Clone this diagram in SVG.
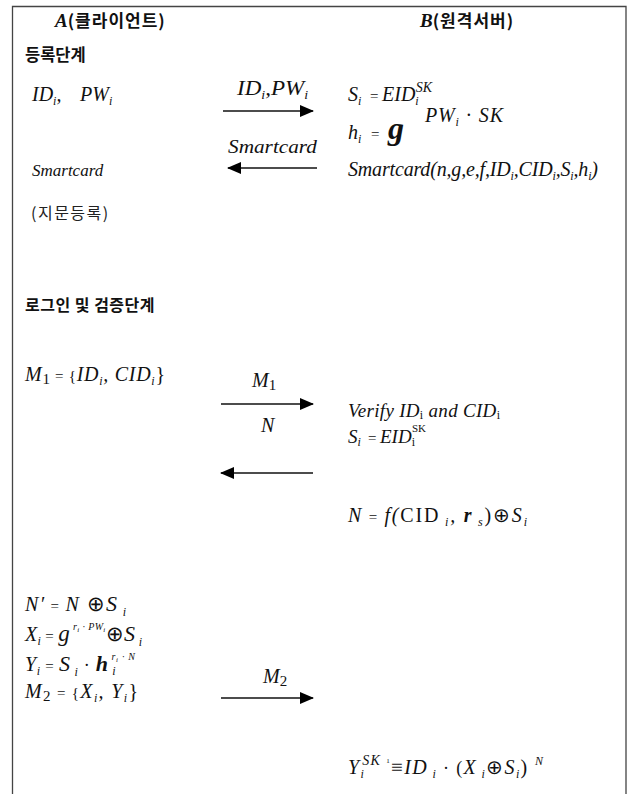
<svg xmlns="http://www.w3.org/2000/svg" width="629" height="794" viewBox="0 0 629 794">
<defs>
<style>
.m{font-family:"Liberation Serif","Times New Roman",serif;font-style:italic;font-size:20px;fill:#111}
.u{font-style:normal}
.s{font-size:12px}
.k{font-family:"Noto Sans CJK KR","Noto Sans",sans-serif;font-weight:bold;fill:#111}
.kn{font-family:"Noto Sans CJK KR","Noto Sans",sans-serif;font-size:16px;fill:#222;letter-spacing:1.5px}
.hd{font-family:"Liberation Serif",serif;font-style:italic;font-weight:bold;font-size:19px;fill:#111}
.ar{stroke:#111;stroke-width:1.4;fill:none}
</style>
<marker id="ah" viewBox="0 0 14 12" refX="13" refY="6" markerWidth="14" markerHeight="12" markerUnits="userSpaceOnUse" orient="auto">
<path d="M0,0 L14,6 L0,12 Z" fill="#000"/>
</marker>
</defs>
<rect width="629" height="794" fill="#fff"/>
<path d="M12.5,800 V6.5 H626 V800" fill="none" stroke="#444" stroke-width="1.3"/>

<g id="headerA"><text x="55" y="27"><tspan class="hd">A</tspan><tspan class="k" style="font-size:17px;letter-spacing:1px">(클라이언트)</tspan></text></g>
<g id="headerB"><text x="420" y="27"><tspan class="hd">B</tspan><tspan class="k" style="font-size:17px;letter-spacing:1px">(원격서버)</tspan></text></g>

<g id="reg-title"><text class="k" x="25" y="61" style="font-size:16.5px">등록단계</text></g>
<g id="reg-A1"><text class="m" x="32" y="101">ID<tspan class="s" dy="4">i</tspan><tspan dy="-4">,</tspan><tspan x="80">PW</tspan><tspan class="s" dy="4">i</tspan></text></g>
<g id="reg-B1"><text class="m" x="348" y="101">S<tspan class="s" dy="4">i</tspan><tspan class="u" x="370" dy="-4" style="font-size:15px">=</tspan><tspan x="382">EID</tspan><tspan class="s" dy="4">i</tspan><tspan class="s" dx="-3" dy="-13" style="font-size:14px">SK</tspan></text></g>
<g id="reg-B2"><text class="m" x="348" y="139">h<tspan class="s" dy="4">i</tspan><tspan class="u" x="371" dy="-4" style="font-size:15px">=</tspan><tspan x="388" style="font-size:32px;font-weight:bold">g</tspan></text>
<text class="m" x="425" y="122" textLength="78" lengthAdjust="spacing">PW<tspan class="s" dy="4">i</tspan><tspan class="u" dy="-4"> · </tspan>SK</text></g>
<g id="reg-A2"><text class="m" x="32" y="176" style="font-size:17px">Smartcard</text></g>
<g id="reg-B3"><text class="m" x="348" y="176" textLength="250" lengthAdjust="spacing">Smartcard(n,g,e,f,ID<tspan class="s" dy="4">i</tspan><tspan dy="-4">,CID</tspan><tspan class="s" dy="4">i</tspan><tspan dy="-4">,S</tspan><tspan class="s" dy="4">i</tspan><tspan dy="-4">,h</tspan><tspan class="s" dy="4">i</tspan><tspan dy="-4">)</tspan></text></g>
<g id="reg-A3"><text class="kn" x="31" y="219">(지문등록)</text></g>

<g id="login-title"><text class="k" x="25" y="311" style="font-size:16px;letter-spacing:0.5px">로그인 및 검증단계</text></g>
<g id="login-A1"><text class="m" x="25" y="381" textLength="140" lengthAdjust="spacing">M<tspan class="u" style="font-size:15px" dy="3">1</tspan><tspan class="u" dy="-3" style="font-size:15px"> = {</tspan>ID<tspan class="s" dy="4">i</tspan><tspan dy="-4">,  CID</tspan><tspan class="s" dy="4">i</tspan><tspan class="u" dy="-4">}</tspan></text></g>
<g id="login-B1"><text class="m" x="348" y="417" style="font-size:19px" textLength="152" lengthAdjust="spacing">Verify ID<tspan class="s u" dy="2">i</tspan><tspan dy="-2"> and CID</tspan><tspan class="s u" dy="2">i</tspan></text></g>
<g id="login-B2"><text class="m" x="348" y="443" style="font-size:19px">S<tspan class="s" dy="3">i</tspan><tspan class="u" x="368" dy="-3" style="font-size:15px">=</tspan><tspan x="380">EID</tspan><tspan class="s u" dy="3">i</tspan><tspan class="s u" dx="-3" dy="-14" style="font-size:11px">SK</tspan></text></g>
<g id="login-B3"><text class="m" x="348" y="522" textLength="179" lengthAdjust="spacing">N<tspan class="u" style="font-size:15px"> = </tspan>f(<tspan class="u">CID</tspan><tspan class="s" dy="4"> i</tspan><tspan dy="-4">, </tspan><tspan style="font-weight:bold">r</tspan><tspan class="s" dy="4"> s</tspan><tspan class="u" dy="-4">)⊕</tspan>S<tspan class="s" dy="4">i</tspan></text></g>

<g id="login-A2"><text class="m" x="25" y="611" textLength="101" lengthAdjust="spacing">N′<tspan class="u" style="font-size:15px"> = </tspan>N <tspan class="u" style="font-size:21px">⊕</tspan><tspan style="font-size:22px">S</tspan><tspan class="s" dy="5"> i</tspan></text></g>
<g id="login-A3"><text class="m" x="25" y="641" textLength="117" lengthAdjust="spacing">X<tspan class="s" dy="4">i</tspan><tspan class="u" dy="-4" style="font-size:15px"> = </tspan><tspan style="font-size:23px">g</tspan><tspan style="font-size:10px" dx="3" dy="-11">r</tspan><tspan style="font-size:7px" dy="2">i</tspan><tspan style="font-size:10px" dy="-2"> · PW</tspan><tspan style="font-size:7px" dy="2">i</tspan><tspan class="u" style="font-size:21px" dy="9">⊕</tspan><tspan style="font-size:22px">S</tspan><tspan class="s" dy="5"> i</tspan></text></g>
<g id="login-A4"><text class="m" x="25" y="671" textLength="110" lengthAdjust="spacing">Y<tspan class="s" dy="4">i</tspan><tspan class="u" dy="-4" style="font-size:15px"> = </tspan><tspan style="font-size:22px">S</tspan><tspan class="s" dy="5"> i</tspan><tspan class="u" dy="-5" style="font-size:18px"> · </tspan><tspan style="font-size:22px;font-weight:bold">h</tspan><tspan class="s" dy="4"> i</tspan><tspan style="font-size:10px" dx="-5" dy="-15">r</tspan><tspan style="font-size:7px" dy="2">i</tspan><tspan style="font-size:10px" dy="-2"> · N</tspan></text></g>
<g id="login-A5"><text class="m" x="25" y="698" textLength="113" lengthAdjust="spacing">M<tspan class="u" style="font-size:15px" dy="3">2</tspan><tspan class="u" dy="-3" style="font-size:15px"> = {</tspan>X<tspan class="s" dy="4">i</tspan><tspan dy="-4">, Y</tspan><tspan class="s" dy="4">i</tspan><tspan class="u" dy="-4">}</tspan></text></g>
<g id="login-B4"><text class="m" x="348" y="774" textLength="195" lengthAdjust="spacing">Y<tspan class="s" dy="4">i</tspan><tspan class="s" dx="-3" dy="-13" style="font-size:14px">SK</tspan><tspan class="u" style="font-size:7px" dx="5" dy="-2">1</tspan><tspan class="u" style="font-size:21px" dy="11">≡</tspan>ID<tspan class="s" dy="4"> i</tspan><tspan class="u" dy="-4" style="font-size:18px"> · (</tspan>X<tspan class="s" dy="4"> i</tspan><tspan class="u" dy="-4" style="font-size:20px">⊕</tspan>S<tspan class="s" dy="4">i</tspan><tspan class="u" dy="-4">) </tspan><tspan class="s" dy="-9">N</tspan></text></g>

<g id="connectors">
<line class="ar" x1="223" y1="111" x2="313" y2="111" marker-end="url(#ah)"/>
<text class="m" x="237" y="95" textLength="71" lengthAdjust="spacingAndGlyphs">ID<tspan class="s" dy="4">i</tspan><tspan dy="-4">,PW</tspan><tspan class="s" dy="4">i</tspan></text>
<line class="ar" x1="317" y1="168" x2="228" y2="168" marker-end="url(#ah)"/>
<text class="m" x="228" y="153" style="font-size:19px" textLength="89" lengthAdjust="spacingAndGlyphs">Smartcard</text>
<line class="ar" x1="221" y1="404" x2="313" y2="404" marker-end="url(#ah)"/>
<text class="m" x="252" y="387" style="font-size:20px">M<tspan class="u" style="font-size:15px" dy="3">1</tspan></text>
<line class="ar" x1="313" y1="473" x2="221" y2="473" marker-end="url(#ah)"/>
<text class="m" x="261" y="432" style="font-size:20px">N</text>
<line class="ar" x1="221" y1="698" x2="313" y2="698" marker-end="url(#ah)"/>
<text class="m" x="263" y="683" style="font-size:20px">M<tspan class="u" style="font-size:15px" dy="3">2</tspan></text>
</g>
</svg>
